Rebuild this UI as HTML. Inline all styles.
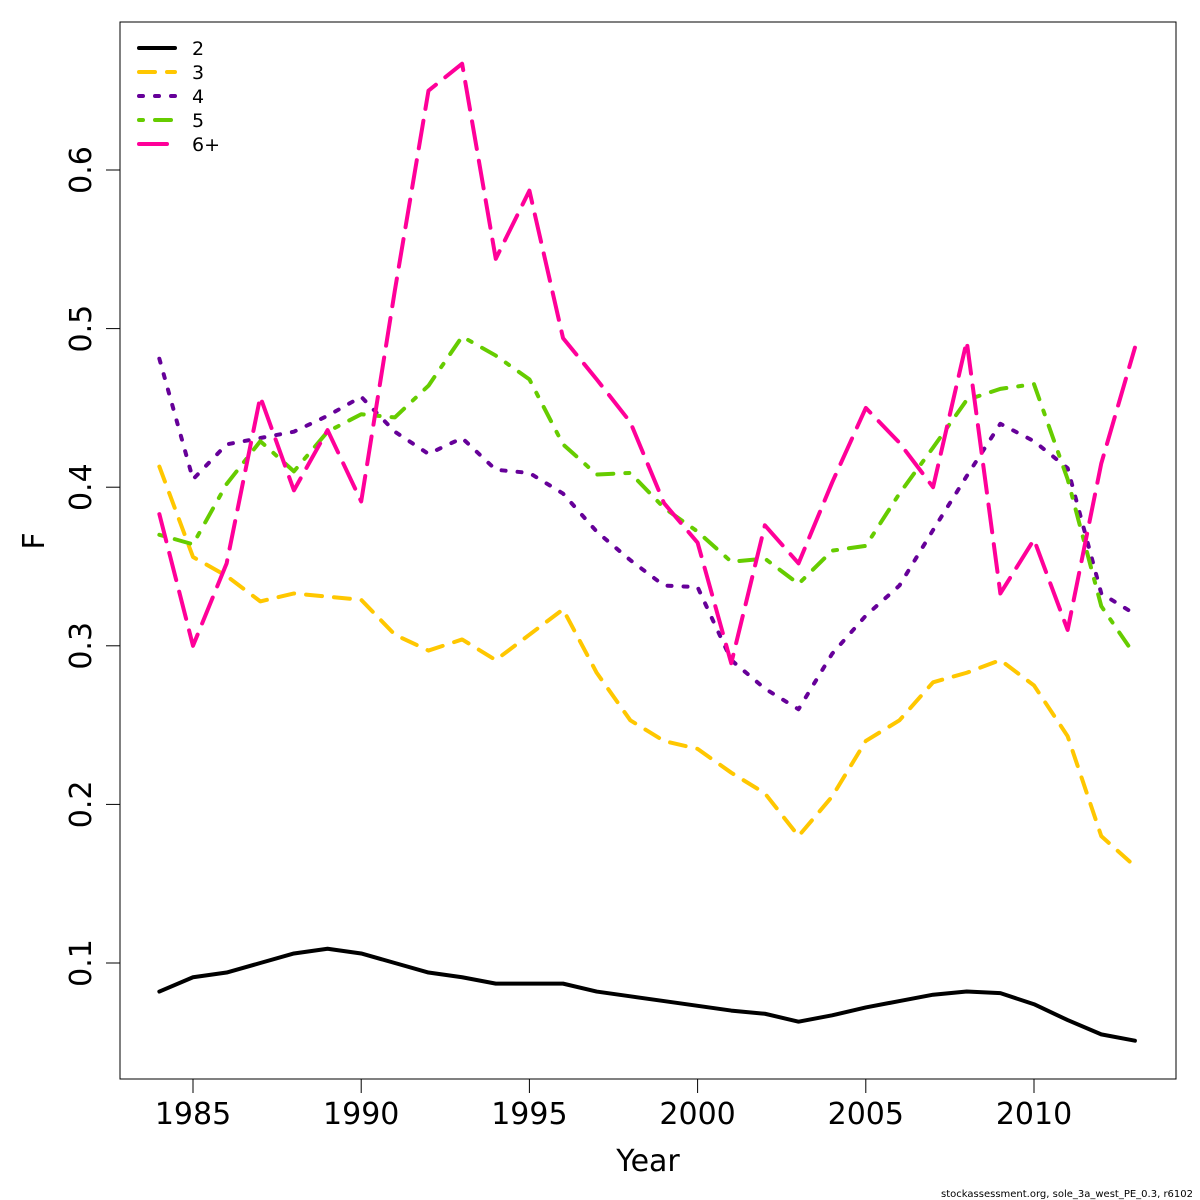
<!DOCTYPE html>
<html><head><meta charset="utf-8"><style>
body{margin:0;background:#fff}
svg{display:block;font-family:"DejaVu Sans","Liberation Sans",sans-serif}
</style></head><body>
<svg id="chart" width="1200" height="1200" viewBox="0 0 1200 1200">
<rect x="120" y="22" width="1056" height="1057" fill="none" stroke="#000" stroke-width="1"/>
<g id="axes"></g>
<g id="series"></g>
<g id="legend"></g>
<text x="648" y="1171" font-size="30" text-anchor="middle">Year</text>
<text x="0" y="0" font-size="30" text-anchor="middle" transform="translate(44,541) rotate(-90)">F</text>
<text x="1193" y="1197" font-size="10" text-anchor="end">stockassessment.org, sole_3a_west_PE_0.3, r6102</text>
</svg>
<script>
const years = [1984,1985,1986,1987,1988,1989,1990,1991,1992,1993,1994,1995,1996,1997,1998,1999,2000,2001,2002,2003,2004,2005,2006,2007,2008,2009,2010,2011,2012,2013];
const age2 = [0.082,0.091,0.094,0.100,0.106,0.109,0.106,0.100,0.094,0.091,0.087,0.087,0.087,0.082,0.079,0.076,0.073,0.070,0.068,0.063,0.067,0.072,0.076,0.080,0.082,0.081,0.074,0.064,0.055,0.051];
const age3 = [0.413,0.356,0.344,0.328,0.333,0.331,0.329,0.307,0.297,0.304,0.291,0.307,0.323,0.283,0.253,0.240,0.235,0.220,0.207,0.180,0.205,0.240,0.253,0.277,0.283,0.291,0.275,0.243,0.180,0.161];
const age4 = [0.481,0.405,0.427,0.431,0.435,0.445,0.457,0.435,0.421,0.431,0.411,0.409,0.396,0.372,0.354,0.338,0.337,0.291,0.273,0.260,0.295,0.319,0.338,0.373,0.407,0.440,0.429,0.412,0.333,0.320];
const age5 = [0.370,0.364,0.402,0.429,0.410,0.435,0.446,0.444,0.464,0.495,0.483,0.468,0.427,0.408,0.409,0.387,0.372,0.353,0.355,0.339,0.360,0.363,0.396,0.425,0.455,0.462,0.465,0.405,0.325,0.294];
const age6 = [0.383,0.300,0.352,0.457,0.398,0.436,0.391,0.524,0.650,0.667,0.544,0.587,0.494,0.468,0.441,0.390,0.365,0.289,0.376,0.352,0.403,0.450,0.428,0.400,0.492,0.333,0.367,0.310,0.415,0.488];
const xTicks = [1985,1990,1995,2000,2005,2010];
const yTicks = [0.1,0.2,0.3,0.4,0.5,0.6];
const legendLabels = ["2","3","4","5","6+"];

const NS="http://www.w3.org/2000/svg";
function xs(v){return 193+(v-1985)*(1034-193)/25;}
function ys(v){return 963-(v-0.1)*1586;}
function mk(tag,attrs,parent){const e=document.createElementNS(NS,tag);for(const k in attrs)e.setAttribute(k,attrs[k]);parent.appendChild(e);return e;}
const axes=document.getElementById('axes');
xTicks.forEach(t=>{
  const l=mk('line',{x1:xs(t),x2:xs(t),y1:1079,y2:1093,stroke:'#000'},axes);
  
  
  const tx=mk('text',{x:xs(t),y:1124,'font-size':30,'text-anchor':'middle'},axes);
  tx.textContent=t;
  
  
});
yTicks.forEach(t=>{
  const l=mk('line',{x1:106,x2:120,y1:ys(t),y2:ys(t),stroke:'#000'},axes);
  
  
  const tx=mk('text',{x:0,y:0,'font-size':30,'text-anchor':'middle',transform:`translate(91,${ys(t)}) rotate(-90)`},axes);
  tx.textContent=t.toFixed(1);
  
  
});
const styles=[
  {d:age2,c:'#000000',dash:'',name:'line-age-2'},
  {d:age3,c:'#FFC700',dash:'16 12',name:'line-age-3'},
  {d:age4,c:'#660099',dash:'4 12',name:'line-age-4'},
  {d:age5,c:'#66CC00',dash:'4 12 16 12',name:'line-age-5'},
  {d:age6,c:'#FF0099',dash:'28 12',name:'line-age-6plus'}
];
const sg=document.getElementById('series');
styles.forEach(s=>{
  const pts=s.d.map((v,i)=>xs(years[i])+','+ys(v)).join(' ');
  const p=mk('polyline',{points:pts,fill:'none',stroke:s.c,'stroke-width':4,'stroke-dasharray':s.dash,'stroke-linecap':'round','stroke-linejoin':'round'},sg);
  
  
});
const lg=document.getElementById('legend');
styles.forEach((s,i)=>{
  const y=48+i*24;
  const l=mk('line',{x1:139,x2:175,y1:y,y2:y,stroke:s.c,'stroke-width':4,'stroke-dasharray':s.dash,'stroke-linecap':'round'},lg);
  
  
  const t=mk('text',{x:192,y:y+7,'font-size':19},lg);
  t.textContent=legendLabels[i];
  
  
});
</script>
</body></html>
